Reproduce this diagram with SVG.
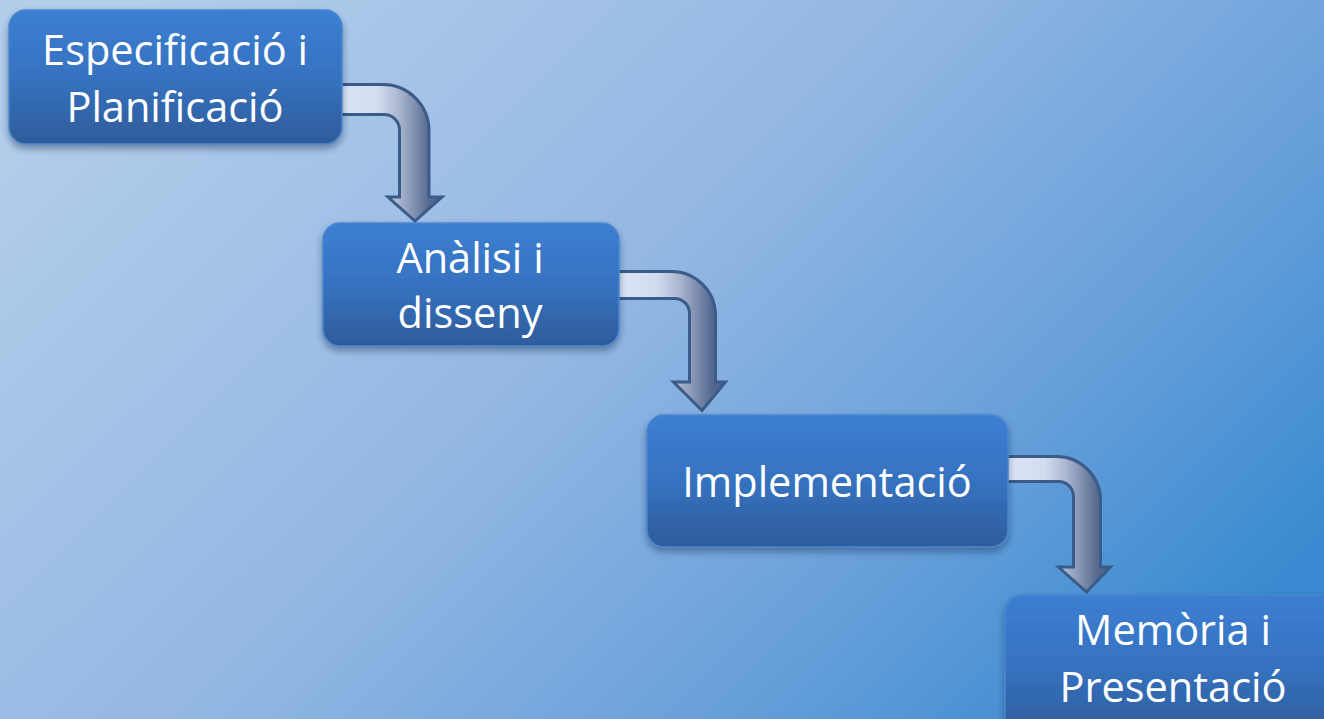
<svg xmlns="http://www.w3.org/2000/svg" width="1324" height="719" viewBox="0 0 1324 719">
  <defs>
    <linearGradient id="bg" x1="0" y1="0.2" x2="1" y2="0.75">
      <stop offset="0" stop-color="#b3cdea"/>
      <stop offset="0.45" stop-color="#93b7e3"/>
      <stop offset="0.75" stop-color="#68a0da"/>
      <stop offset="1" stop-color="#398ad0"/>
    </linearGradient>
    <linearGradient id="boxg" x1="0" y1="0" x2="0" y2="1">
      <stop offset="0" stop-color="#3c7fd2"/>
      <stop offset="0.5" stop-color="#3672c0"/>
      <stop offset="1" stop-color="#2e5c9a"/>
    </linearGradient>
    <linearGradient id="arrg" x1="0" y1="0" x2="1" y2="0">
      <stop offset="0" stop-color="#dde6f6"/>
      <stop offset="0.4" stop-color="#d2dcf0"/>
      <stop offset="0.6" stop-color="#aab6cf"/>
      <stop offset="0.88" stop-color="#566a90"/>
      <stop offset="1" stop-color="#4a5f87"/>
    </linearGradient>
    <filter id="shadow" x="-10%" y="-10%" width="120%" height="130%">
      <feDropShadow dx="0" dy="4" stdDeviation="3.5" flood-color="#1a2f55" flood-opacity="0.45"/>
    </filter>
  </defs>
  <style>
    .box { fill: url(#boxg); stroke: #4a86cf; stroke-width: 1.5; filter: url(#shadow); }
    .lbl { fill: #ffffff; font-family: "Open Sans", "Noto Sans", "Liberation Sans", sans-serif; font-size: 41.5px; text-anchor: middle; }
    .arr { fill: url(#arrg); stroke: #3b5b89; stroke-width: 3; stroke-linejoin: miter; }
  </style>
  <rect x="0" y="0" width="1324" height="719" fill="url(#bg)"/>

  <g id="connectors">
    <path class="arr" d="M335,84.5 H383 A46,46 0 0 1 429,130.5 V197 H442 L415,221 L388,197 H399.5 V130 A15.5,15.5 0 0 0 384,114.5 H335 Z"/>
    <path class="arr" d="M610,271.5 H671.5 A44,44 0 0 1 715.5,315.5 V382 H725.5 L702,410.5 L673.5,382 H689.5 V313.5 A15,15 0 0 0 674.5,298.5 H610 Z"/>
    <path class="arr" d="M1000,456.5 H1056.5 A44,44 0 0 1 1100.5,500.5 V567 H1110.5 L1086.5,592 L1058.5,567 H1073.5 V496.5 A15,15 0 0 0 1058.5,481.5 H1000 Z"/>
  </g>

  <g id="node1">
    <rect class="box" x="9" y="10" width="333" height="134" rx="17"/>
    <text class="lbl" x="175" y="65">Especificació i</text>
    <text class="lbl" x="175" y="122">Planificació</text>
  </g>
  <g id="node2">
    <rect class="box" x="323" y="223" width="296" height="123" rx="17"/>
    <text class="lbl" x="470" y="273">Anàlisi i</text>
    <text class="lbl" x="470" y="328">disseny</text>
  </g>
  <g id="node3">
    <rect class="box" x="647" y="415" width="361" height="132" rx="17"/>
    <text class="lbl" x="827" y="497">Implementació</text>
  </g>
  <g id="node4">
    <rect class="box" x="1005" y="595" width="340" height="140" rx="17"/>
    <text class="lbl" x="1173" y="645">Memòria i</text>
    <text class="lbl" x="1173" y="702">Presentació</text>
  </g>
</svg>
